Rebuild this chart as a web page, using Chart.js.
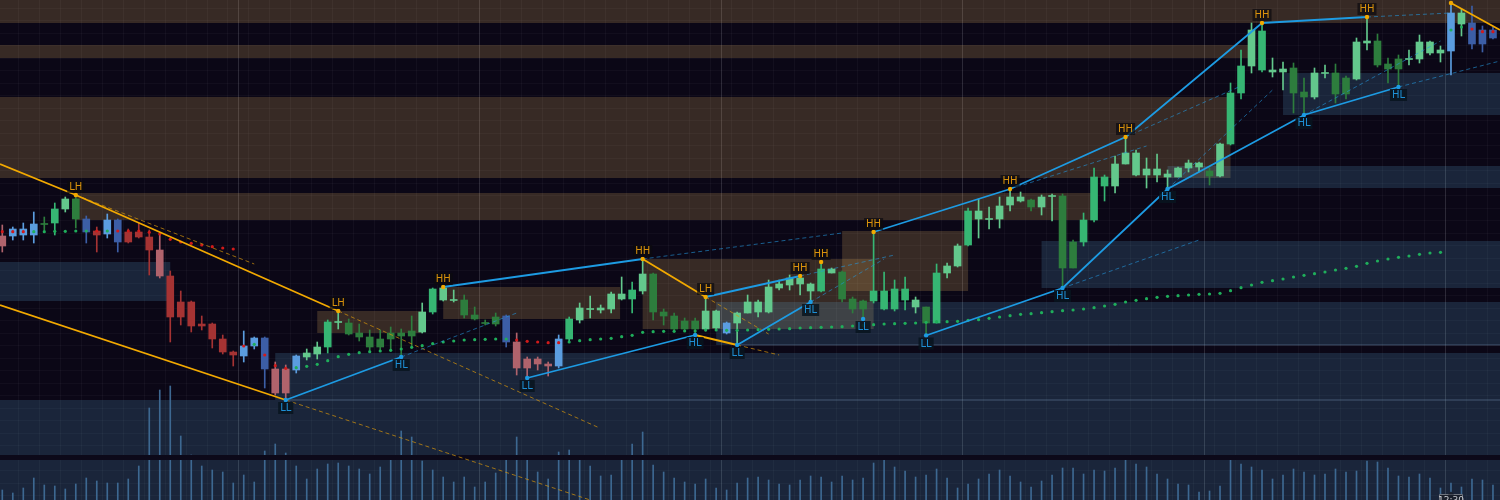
<!DOCTYPE html>
<html><head><meta charset="utf-8">
<script src="https://cdn.jsdelivr.net/npm/chart.js@4.4.1/dist/chart.umd.min.js"></script>
<style>html,body{margin:0;padding:0;background:#0b0716;overflow:hidden}#wrap{width:1500px;height:500px;position:relative}</style>
</head><body><div id="wrap"><canvas id="c"></canvas></div>
<script>
// ---------- data (price units: arbitrary) ----------
const LEFT = -0.219, RIGHT = 142.67;
const candleIndex = Array.from({length:143}, (_, i) => i);
const openP = [264,271,271,276,275.5,277,291,281,281,269, 280,280,268,268,263,250,224,198,198,176, 176,161,148,154,162,162,131,131,144,143,
 146,153,177.5,166,163,153,153,161,164,164, 168,188,200,199.5,185,181,176.5,176,184,158, 141,141,136,161,161,180,190.5,190,191,201,
 201,209,188,184,171,171,171,171,172,177, 177,187,188,188,212,215,216,209,209,227, 201,191,191,199,191,191,200,193,177,177,
 227,234,255,281,280.5,281,295,299,293,293, 303.5,232,232,258,280,314,314,336,325,325, 325,323,323,332,333,324,324,356,407,434,
 430,428,428,407,403,403,426.5,406,406,421, 457,435,431,431,440.5,441,447,447,487,476, 477,470,470];
const closeP = [254,264,265,265,276.5,291,301,301,268,265, 266,258,258,263,250,224,183,183,174,174, 161,148,145,144,154,131,107,107,130,147,
 153,178,178.5,177,167,163,161,167,167,169, 188,211,212,200.5,200,185,177.5,183,158,132, 132,136,134,134,181,192,191.5,192,206,206,
 210,226,226,188,184,179,179,189,189,167, 187,198,198,213,216,222,222,216,231,231, 228,201,199,209,209,211,211,200,193,227,
 234,254,289,289,281.5,294,303,303,300,303, 304.5,304,258,280,323,323,336,347,347,331, 331,326,332,337,337,329,356,407,434,470,
 469,430,431,432,408,427,427.5,427,422,458, 459,459,436,441,441.5,458,458,450,449,487, 456,456,462];
const highP = [275,273,277,288,283,297,303,305,284,273, 286,281,271,277,270,266,229,209,199,184, 177,165,149,169,163,163,138,135,145,151,
 158,180,189,181,176,170,170,173,171,184, 197,212,213,210,205,193,180,187,185,167, 143,143,138,165,183,197,204,195,208,223,
 218,241,227,191,187,182,182,203,190,178, 188,205,200,220,220,225,224,217,238,232, 229,203,200,268,228,220,223,203,193,236,
 237,256,292,301,293,303,311,308,301,305, 306,306,260,287,332,325,344,363,350,342, 346,330,333,340,338,332,357,417,450,477,
 477,442,438,437,422,432,435,436,424,462, 483,466,442,445,450,465,459,454,497,491, 494,474,473];
const lowP = [248,260,260,257,270,265,288,272,257,248, 262,248,257,262,225,222,158,175,168,170, 152,146,134,138,151,112,105,100,127,140,
 141,147,171,165,159,150,150,150,143,153, 167,186,199,198,182,180,175,174,153,125, 122,130,124,132,158,177,182,187,187,200,
 187,206,180,175,169,169,165,169,170,166, 155,187,183,187,210,210,205,198,208,227, 198,187,181,197,190,189,190,187,164.5,177,
 222,233,254,262,271,272,289,298,289,285, 279,212,232,254,278,299,307,336,324,312, 318,311,323,328,328,315,323,355,401,427,
 428,423,410,387,385,401,422,397,401,420, 450,433,417,413,435,437,445,438,425,464, 451,448,461];
const candleTone = ['P','LB','LB','LB','DG','BG','LG','DG','MB','R', 'LB','MB','R','R','R','P','R','R','R','R',
 'R','R','R','LB','LB','MB','P','P','LB','LG', 'LG','BG','LG','DG','DG','DG','DG','DG','DG','DG',
 'LG','BG','LG','LG','DG','DG','DG','DG','MB','P', 'P','P','P','LB','BG','LG','LG','LG','LG','LG',
 'BG','LG','DG','DG','DG','DG','DG','LG','LG','LB', 'LG','LG','LG','LG','LG','LG','LG','LG','BG','LG',
 'DG','DG','DG','BG','BG','BG','BG','LG','DG','BG', 'LG','LG','BG','LG','LG','LG','LG','LG','DG','LG',
 'LG','DG','DG','BG','BG','BG','LG','LG','LG','LG', 'LG','LG','LG','LG','LG','DG','LG','BG','BG','LG',
 'BG','LG','LG','DG','DG','LG','LG','DG','DG','LG', 'LG','DG','DG','DG','LG','LG','LG','LG','LB','LG', 'MB','MB','MB'];
const volume = [10,7,12,22,15,14,11,16,22,19, 17,17,21,34,92,110,114,64,45,34, 30,28,17,25,18,49,56,47,34,21,
 31,36,37,34,31,26,33,41,69,63, 39,30,23,18,23,13,18,27,42,63, 44,28,21,48,50,44,34,24,25,42,
 56,68,35,28,22,18,16,21,12,10, 17,22,23,20,16,15,20,24,23,18, 24,20,22,37,41,33,29,23,25,31,
 22,12,16,21,26,30,24,18,13,19, 25,32,32,26,30,29,32,40,36,33, 26,21,16,15,8,9,14,42,36,33,
 30,21,25,31,28,25,26,31,28,29, 39,38,32,24,23,26,22,12,17,13, 21,20,15];
const dotPrice = [268.3,268.3,268.3,268.3,268.3,268.7,268.7,269,269,269, 269,269,269,269,267.7,266,260.7,258,256.7,255,
 253.3,252,251,154,155.7,145,134.3,131.7,132.3,133.7, 135.7,139.3,143.3,145.7,147.3,148.3,149,149.7,151,152.7,
 154.3,156.3,158,159,160,160.3,160.7,161,161,160, 158.7,158,157.3,157.3,158,159.3,160.3,161,161.7,163.3,
 164.7,167.7,168.3,168.7,168.7,169,169,170,170,169.7, 169.7,170,170.3,170.7,171,171.3,172,172.3,172.7,173,
 173.3,174,174.7,175.3,176,176.3,176.7,177,177.7,178.3, 178.3,178.7,179.7,180.3,181.7,183,184.3,185.7,186.3,187.3,
 188.3,189.3,190,191,192.3,194,195.7,198,199.7,201.3, 202.7,203.7,204.3,205,205.7,206,206.7,209.3,212.3,215,
 217.7,219.3,221,223,224.7,226.3,228,230,231.7,233.7, 236.7,239,241,242.7,244,245.7,247,247.7,470,473, 471,468.3,468.3];
const dotTone = ('rrrggggggr'+'grrrrrrrrr'+'rrrrgrrrgg'+'gggggggggg'+'gggggggggr'+'rrrrgggggg'+'gggggggggg'+'gggggggggg'+
 'gggggggggg'+'gggggggggg'+'gggggggggg'+'gggggggggg'+'gggggggggg'+'gggggggggg'+'rrr').split('');

const swingName  = ['LH7','LL27','LH32','HL38','HH42','LL50','HH61','HL66','LH67','LL70','HH76','HL77','HH78','LL82','HH83','LL88','HH96','HL101','HH107','HL111','HH120','HL124','HH130','HL133','HH138'];
const swingLabel = ['LH','LL','LH','HL','HH','LL','HH','HL','LH','LL','HH','HL','HH','LL','HH','LL','HH','HL','HH','HL','HH','HL','HH','HL',''];
const swingIndex = [7,27,32,38,42,50,61,66,67,70,76,77,78,82,83,88,96,101,107,111,120,124,130,133,138];
const swingPrice = [305,100,189,143,213,122,241,165,203,155,224,198,238,181,268,164.5,311,212,363,311,477,385,483,413,497];

const solidBlue = [['LL27','HL38'],['HH42','HH61'],['LL50','HL66'],['LH67','HH76'],['LL70','HL77'],
  ['HH83','HH96','HH107','HH120'],['HH120','HH130'],['LL88','HL101','HL111','HL124','HL133']];
const dashBlue = [[38,143,49,187],[61,241,80,267],[76,224,85,245],[77,198,84,241],[96,311,109,354],[107,363,118,414],
  [101,212,114,260],[111,311,121,410],[124,385,137,459],[133,413,142.67,439],[130,483,138,487]];
const solidOrange = [[[LEFT,336],'LH7','LH32'],[[LEFT,195],'LL27'],['HH61','LH67'],['HL66','LL70'],['HH138',[RIGHT,470]]];
const dashOrange = [[7,305,24,236],[32,189,56.9,72],[27,100,56,0],[67,203,73,166],[70,155,74,145]];
const levelLines = [[27,100],[70,155]];

const zoneKind = ['tan','tan','tan','tan','tan','tan','tan','tan','blue','blue','blue','blue','blue','blue','blue','blue'];
const zoneX0 = [LEFT,LEFT,LEFT,6.9,30,42,61,80, LEFT,26,LEFT,68,99,111,122,LEFT];
const zoneX1 = [RIGHT,118.9,117,103.9,40,58.85,83,92, 16,RIGHT,RIGHT,RIGHT,RIGHT,RIGHT,RIGHT,RIGHT];
const zoneHi = [500,455,403,307,189,213,241,269, 238,147,100,198,259,334,427,40];
const zoneLo = [477,442,322,280,167,181,171,209, 199,100,45,155,212,312,385,0];
const paneGap = [40,45];

// ---------- styling ----------
const BG = '#0b0716';
const toneColor = {BG:'#36b673', LG:'#63c88c', DG:'#2d7d3d', LB:'#5b9ddf', MB:'#3c5ea6', R:'#a53333', P:'#b0636c'};
const zoneColor = {tan:'rgba(235,185,100,0.2)', blue:'rgba(100,190,240,0.17)'};
const BLUE = '#1d9be3', ORANGE = '#f2a900';

const swingPt = name => { const k = swingName.indexOf(name); return {x: swingIndex[k], y: swingPrice[k]}; };
const toPt = p => typeof p === 'string' ? swingPt(p) : {x: p[0], y: p[1]};
const lineDs = (pts, color, width, dash, order) => ({type:'line', data: pts, borderColor: color, borderWidth: width,
  borderDash: dash, pointRadius: 0, pointHoverRadius: 0, tension: 0, fill: false, order: order});

const datasets = [];
datasets.push({type:'bar', data: candleIndex.map(i => ({x:i, y: volume[i]})), backgroundColor:'#3d6891',
  barThickness: 1, grouped: false, order: 10});
datasets.push({type:'bar', data: candleIndex.map(i => ({x:i, y:[lowP[i], highP[i]]})),
  backgroundColor: candleIndex.map(i => toneColor[candleTone[i]]), barThickness: 1, grouped: false, order: 9});
datasets.push({type:'bar', data: candleIndex.map(i => ({x:i, y:[openP[i], closeP[i]]})),
  backgroundColor: candleIndex.map(i => toneColor[candleTone[i]]), barThickness: 7, grouped: false, order: 8});
datasets.push({type:'line', data: candleIndex.map(i => ({x:i, y: dotPrice[i]})), showLine: false,
  pointRadius: 1.6, pointHoverRadius: 0, pointBorderWidth: 0, pointBackgroundColor: dotTone.map(t => t === 'g' ? '#1fae5b' : '#d11a1a'), order: 7});
levelLines.forEach(l => datasets.push(lineDs([{x:l[0], y:l[1]},{x:RIGHT, y:l[1]}], 'rgba(120,150,185,0.45)', 1, [], 6)));
dashBlue.forEach(d => datasets.push(lineDs([{x:d[0],y:d[1]},{x:d[2],y:d[3]}], 'rgba(35,150,220,0.6)', 1, [4,3], 5)));
dashOrange.forEach(d => datasets.push(lineDs([{x:d[0],y:d[1]},{x:d[2],y:d[3]}], 'rgba(215,150,10,0.7)', 1, [4,3], 5)));
solidBlue.forEach(s => datasets.push(lineDs(s.map(toPt), BLUE, 1.8, [], 4)));
solidOrange.forEach(s => datasets.push(lineDs(s.map(toPt), ORANGE, 1.8, [], 4)));
datasets.push({type:'line', data: swingName.map(n => swingPt(n)), showLine: false, pointRadius: 2.2, pointHoverRadius: 0, pointBorderWidth: 0,
  pointBackgroundColor: swingLabel.map((l, k) => (l === '' || l[1] === 'H') ? ORANGE : BLUE), order: 2});

const bgPlugin = {id:'bgz',
  beforeDraw(chart){ const c = chart.ctx; c.save(); c.fillStyle = BG; c.fillRect(0,0,chart.width,chart.height); c.restore(); },
  beforeDatasetsDraw(chart){
    const {ctx, scales:{x, y}} = chart; ctx.save();
    zoneKind.forEach((k, i) => {
      const x0 = x.getPixelForValue(zoneX0[i]), x1 = x.getPixelForValue(zoneX1[i]);
      const y0 = y.getPixelForValue(zoneHi[i]), y1 = y.getPixelForValue(zoneLo[i]);
      ctx.fillStyle = zoneColor[k]; ctx.fillRect(x0, y0, x1 - x0, y1 - y0);
    });
    ctx.restore();
  },
  afterDatasetDraw(chart, args){
    if (args.index !== 0) return;
    const {ctx, scales:{x, y}} = chart; ctx.save();
    ctx.fillStyle = '#0c0919';
    const y0 = y.getPixelForValue(paneGap[1]), y1 = y.getPixelForValue(paneGap[0]);
    ctx.fillRect(0, y0, chart.width, y1 - y0);
    ctx.restore();
  },
  afterDatasetsDraw(chart){
    const {ctx, scales:{x, y}} = chart; ctx.save();
    ctx.font = '10px "DejaVu Sans", sans-serif'; ctx.textAlign = 'center'; ctx.textBaseline = 'middle';
    swingLabel.forEach((t, k) => {
      if (!t) return;
      const hi = t[1] === 'H';
      const px = x.getPixelForValue(swingIndex[k]);
      const py = y.getPixelForValue(swingPrice[k]) + (hi ? -8 : 8);
      const w = ctx.measureText(t).width + 4;
      ctx.fillStyle = hi ? 'rgba(12,10,14,0.7)' : 'rgba(8,20,30,0.85)';
      ctx.fillRect(px - w/2, py - 6, w, 12);
      ctx.fillStyle = hi ? '#d9920c' : '#1e8fd4';
      ctx.fillText(t, px, py + 0.5);
    });
    const tx = x.getPixelForValue(138);
    ctx.fillStyle = '#1a1f2b'; ctx.strokeStyle = '#70757f'; ctx.lineWidth = 1;
    ctx.beginPath(); ctx.rect(tx - 11.5, 494.5, 23, 8); ctx.fill(); ctx.stroke();
    ctx.beginPath(); ctx.moveTo(tx - 3, 494.5); ctx.lineTo(tx, 491.5); ctx.lineTo(tx + 3, 494.5); ctx.closePath(); ctx.fill();
    ctx.fillStyle = '#c9ccd3'; ctx.font = '9px "DejaVu Sans", sans-serif'; ctx.fillText('12:30', tx, 501);
    ctx.restore();
  }
};

new Chart(document.getElementById('c'), {
  type: 'bar',
  data: {datasets},
  options: {
    responsive: true, maintainAspectRatio: false, animation: false, events: [],
    layout: {padding: 0, autoPadding: false},
    plugins: {legend: {display: false}, tooltip: {enabled: false}},
    scales: {
      x: {type: 'linear', min: LEFT, max: RIGHT, offset: false, border: {display: false},
        ticks: {display: false}, grid: {drawTicks: false, lineWidth: 1,
          color: c => { const v = c.tick ? c.tick.value : -1; if (v > 0 && v % 23 === 0) return 'rgba(150,150,165,0.24)';
            if (v % 2 === 0) return 'rgba(255,255,255,0.035)'; return 'rgba(0,0,0,0)'; }},
        afterBuildTicks: ax => { ax.ticks = candleIndex.map(v => ({value: v})); }},
      y: {type: 'linear', min: 0, max: 500, border: {display: false}, ticks: {display: false},
        grid: {drawTicks: false, color: 'rgba(255,255,255,0.03)'},
        afterBuildTicks: ax => { const t = []; for (let v = 4.3; v < 500; v += 12.5) t.push({value: v}); ax.ticks = t; }}
    }
  },
  plugins: [bgPlugin]
});
</script></body></html>
